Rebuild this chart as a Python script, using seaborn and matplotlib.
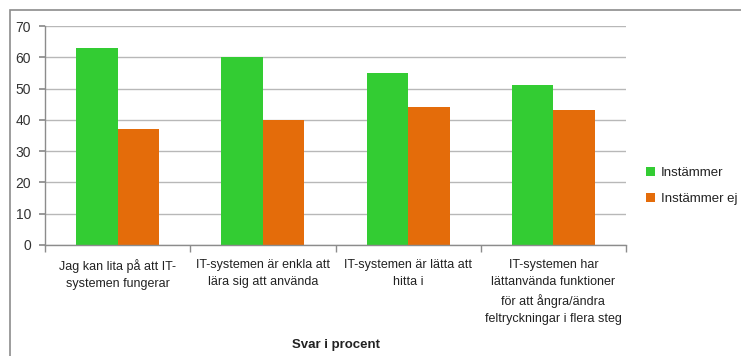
import matplotlib
matplotlib.use("Agg")
import matplotlib.pyplot as plt
from matplotlib.patches import Rectangle
import seaborn as sns
import pandas as pd
import numpy as np

categories = [
    "Jag kan lita på att IT-\nsystemen fungerar",
    "IT-systemen är enkla att\nlära sig att använda",
    "IT-systemen är lätta att\nhitta i",
    "IT-systemen har\nlättanvända funktioner\nför att ångra/ändra\nfeltryckningar i flera steg",
]
instammer = [63, 60, 55, 51]
instammer_ej = [37, 40, 44, 43]
series_names = ["Instämmer", "Instämmer ej"]
yticks = [0, 10, 20, 30, 40, 50, 60, 70]

df = pd.DataFrame({
    "kategori": categories * 2,
    "värde": instammer + instammer_ej,
    "serie": [series_names[0]] * 4 + [series_names[1]] * 4,
})

sns.set_theme(style="white")
plt.rcParams["font.family"] = ["Liberation Sans", "DejaVu Sans"]

fig = plt.figure(figsize=(7.41, 3.56), dpi=100)
ax = fig.add_axes([45 / 741, 1 - 245 / 356, (626 - 45) / 741, (245 - 26) / 356])

sns.barplot(data=df, x="kategori", y="värde", hue="serie",
            palette=["#33CC33", "#E46C0A"], width=0.57, saturation=1,
            ax=ax, legend=True)
for p in ax.patches:
    p.set_edgecolor("none")

ax.set_ylim(0, 70)
ax.set_xlim(-0.5, 3.5)
ax.set_yticks(yticks)
ax.yaxis.grid(True, color="#b8b8b8", linewidth=1)
ax.set_axisbelow(True)
for s in ["top", "right"]:
    ax.spines[s].set_visible(False)
for s in ["left", "bottom"]:
    ax.spines[s].set_color("#8c8c8c")
    ax.spines[s].set_linewidth(1)

ax.tick_params(axis="y", which="major", left=True, length=4, color="#8c8c8c",
               labelsize=10, labelcolor="#333333", pad=6)
ax.set_xticks(range(4))
ax.set_xticklabels(categories, fontsize=9, color="#222222", linespacing=1.55)
ax.tick_params(axis="x", which="major", length=0, pad=10)
ax.set_xticks(np.arange(-0.5, 4, 1.0), minor=True)
ax.tick_params(axis="x", which="minor", bottom=True, length=5, color="#8c8c8c")

ax.set_ylabel("")
ax.set_xlabel("Svar i procent", fontsize=9.5, fontweight="bold", color="#222222", labelpad=10)

handles, labels = ax.get_legend_handles_labels()
ax.legend(handles, labels, loc="center left", bbox_to_anchor=(646 / 741, 1 - 186 / 356),
          bbox_transform=fig.transFigure, frameon=False, fontsize=9.5,
          handlelength=0.7, handleheight=0.7, handletextpad=0.4, labelspacing=1.1,
          labelcolor="#222222", borderaxespad=0, borderpad=0)

fig.patches.append(Rectangle((10 / 741, -0.2), 1.2, 1.2 - 10 / 356,
                             transform=fig.transFigure, fill=False,
                             edgecolor="#8c8c8c", linewidth=1.2))

fig.savefig("out.png", dpi=100)
